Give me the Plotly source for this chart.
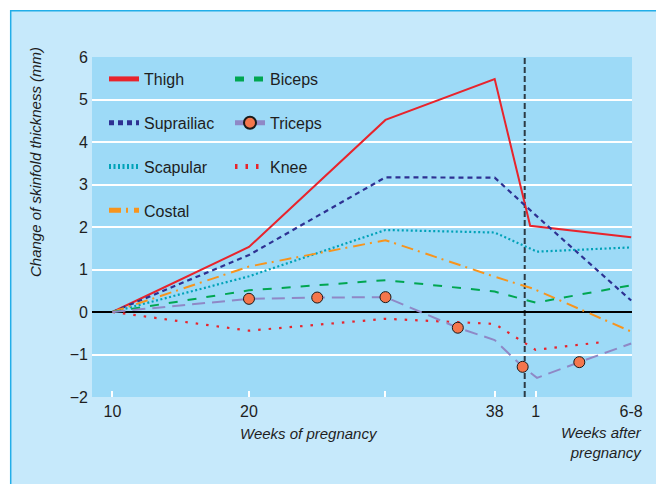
import plotly.graph_objects as go

# ---- data (weeks on a continuous scale; post-pregnancy weeks placed after delivery) ----
thigh_x = [10, 20, 30, 38, 40.6, 48]
thigh_y = [0, 1.53, 4.52, 5.48, 2.03, 1.76]

supra_x = [10, 20, 30, 38, 41, 48]
supra_y = [0, 1.34, 3.17, 3.16, 2.28, 0.27]

scap_x = [10, 20, 30, 38, 41.1, 48]
scap_y = [0, 0.84, 1.93, 1.87, 1.42, 1.52]

costal_x = [10, 20, 30, 38, 40.8, 48]
costal_y = [0, 1.07, 1.69, 0.83, 0.55, -0.46]

biceps_x = [10, 20, 30, 38, 41, 48]
biceps_y = [0, 0.51, 0.75, 0.48, 0.22, 0.63]

triceps_x = [10, 20, 25, 30, 35.3, 38, 40.05, 41.1, 44.2, 48]
triceps_y = [0, 0.31, 0.34, 0.35, -0.37, -0.66, -1.29, -1.55, -1.18, -0.74]
triceps_marked = [False, True, True, True, True, False, True, False, True, False]

knee_x = [10, 20, 30, 38, 41, 46.1]
knee_y = [0, -0.44, -0.16, -0.28, -0.89, -0.70]

delivery_week = 40.2

x_tickvals = [10, 20, 30, 38, 41, 48]
x_ticktext = ["10", "20", "", "38", "1", "6-8"]
y_tickvals = [-2, -1, 0, 1, 2, 3, 4, 5, 6]

# ---- styling ----
FONT = "Liberation Sans, Arial, sans-serif"
TXT = "#1e1e1e"
PANEL = "#c6e9fb"
PLOTBG = "#9ddaf7"
BORDER = "#22aee8"

fig = go.Figure()

def add(name, x, y, color, dash, legend, width=2):
    fig.add_trace(go.Scatter(
        x=x, y=y, name=name, mode="lines",
        line=dict(color=color, width=width, dash=dash),
        legend=legend, legendgroup=name,
    ))

add("Thigh", thigh_x, thigh_y, "#e8242c", "solid", "legend")
add("Suprailiac", supra_x, supra_y, "#2e3192", "5px,4px", "legend", 2.2)
add("Scapular", scap_x, scap_y, "#00a2b8", "2px,2.5px", "legend", 2.2)
add("Costal", costal_x, costal_y, "#f7941d", "12px,5px,2px,6px", "legend")
add("Biceps", biceps_x, biceps_y, "#00a651", "9px,10px", "legend2")
add("Knee", knee_x, knee_y, "#e8242c", "2.5px,8px", "legend2", 2.2)

fig.add_trace(go.Scatter(
    x=triceps_x, y=triceps_y, name="Triceps", mode="lines+markers",
    line=dict(color="#8f88c6", width=2, dash="13px,7px"),
    marker=dict(
        color="#f4764c", opacity=1,
        size=[11 if m else 0 for m in triceps_marked],
        line=dict(color="#1a1a1a", width=[1 if m else 0 for m in triceps_marked]),
    ),
    legend="legend2", legendgroup="Triceps",
))

fig.data[4].legendrank = 1
fig.data[6].legendrank = 2
fig.data[5].legendrank = 3

# ---- layout geometry (screen coords include the 8px page margin) ----
OFF = 8
W, H = 664, 484
L, R, T, B = 84, 40, 49, 95
pw, ph = W - L - R, H - T - B

def px(xs):
    return (xs - OFF - L) / pw

def py(ys):
    return (H - B - (ys - OFF)) / ph

# delivery line
fig.add_shape(type="line", xref="x", yref="paper", x0=delivery_week, x1=delivery_week,
              y0=0, y1=1, line=dict(color="#2c3a44", width=2, dash="6px,3px"), layer="between")

# white edge + panel border
fig.add_shape(type="rect", xref="paper", yref="paper", x0=px(-20), x1=px(10), y0=py(600), y1=py(-20),
              fillcolor="white", line=dict(width=0), layer="below")
fig.add_shape(type="rect", xref="paper", yref="paper", x0=px(-20), x1=px(700), y0=py(10), y1=py(-20),
              fillcolor="white", line=dict(width=0), layer="below")
fig.add_shape(type="line", xref="paper", yref="paper", x0=px(10.7), x1=px(10.7), y0=py(600), y1=py(10),
              line=dict(color=BORDER, width=1.5), layer="below")
fig.add_shape(type="line", xref="paper", yref="paper", x0=px(10), x1=px(700), y0=py(10.7), y1=py(10.7),
              line=dict(color=BORDER, width=1.5), layer="below")

ann_font = dict(family=FONT, size=15, color=TXT)
fig.add_annotation(text="<i>Change of skinfold thickness (mm)</i>", textangle=-90,
                   xref="paper", yref="paper", x=px(35), y=py(162), showarrow=False,
                   font=ann_font, xanchor="center", yanchor="middle")
fig.add_annotation(text="<i>Weeks of pregnancy</i>", xref="paper", yref="paper",
                   x=px(309), y=py(433), showarrow=False, font=ann_font,
                   xanchor="center", yanchor="middle")
fig.add_annotation(text="<i>Weeks after<br>pregnancy</i>", xref="paper", yref="paper",
                   x=px(644), y=py(442), showarrow=False, font=ann_font, align="right",
                   xanchor="right", yanchor="middle")

leg_common = dict(
    bgcolor="rgba(0,0,0,0)", borderwidth=0, traceorder="grouped", tracegroupgap=20,
    font=dict(family=FONT, size=16, color=TXT), yanchor="top", xanchor="left",
    itemsizing="constant",
)

fig.update_layout(
    width=W, height=H,
    margin=dict(l=L, r=R, t=T, b=B, pad=0),
    paper_bgcolor=PANEL, plot_bgcolor=PLOTBG,
    font=dict(family=FONT, size=16, color=TXT),
    legend=dict(x=px(104), y=py(62), **leg_common),
    legend2=dict(x=px(230), y=py(62), **leg_common),
    xaxis=dict(range=[8.5, 48.06], tickvals=x_tickvals, ticktext=x_ticktext,
               showgrid=False, zeroline=False, showline=False,
               ticks="inside", tickcolor="white", ticklen=6, tickwidth=2,
               ticklabelstandoff=3,
               tickfont=dict(family=FONT, size=16, color=TXT)),
    yaxis=dict(range=[-2, 6], tickvals=y_tickvals, showgrid=True, gridcolor="white", gridwidth=2,
               zeroline=True, zerolinecolor="black", zerolinewidth=1.5, showline=False,
               ticks="", ticklabelstandoff=3,
               tickfont=dict(family=FONT, size=16, color=TXT)),
    showlegend=True,
)

fig.write_html("out.html")
